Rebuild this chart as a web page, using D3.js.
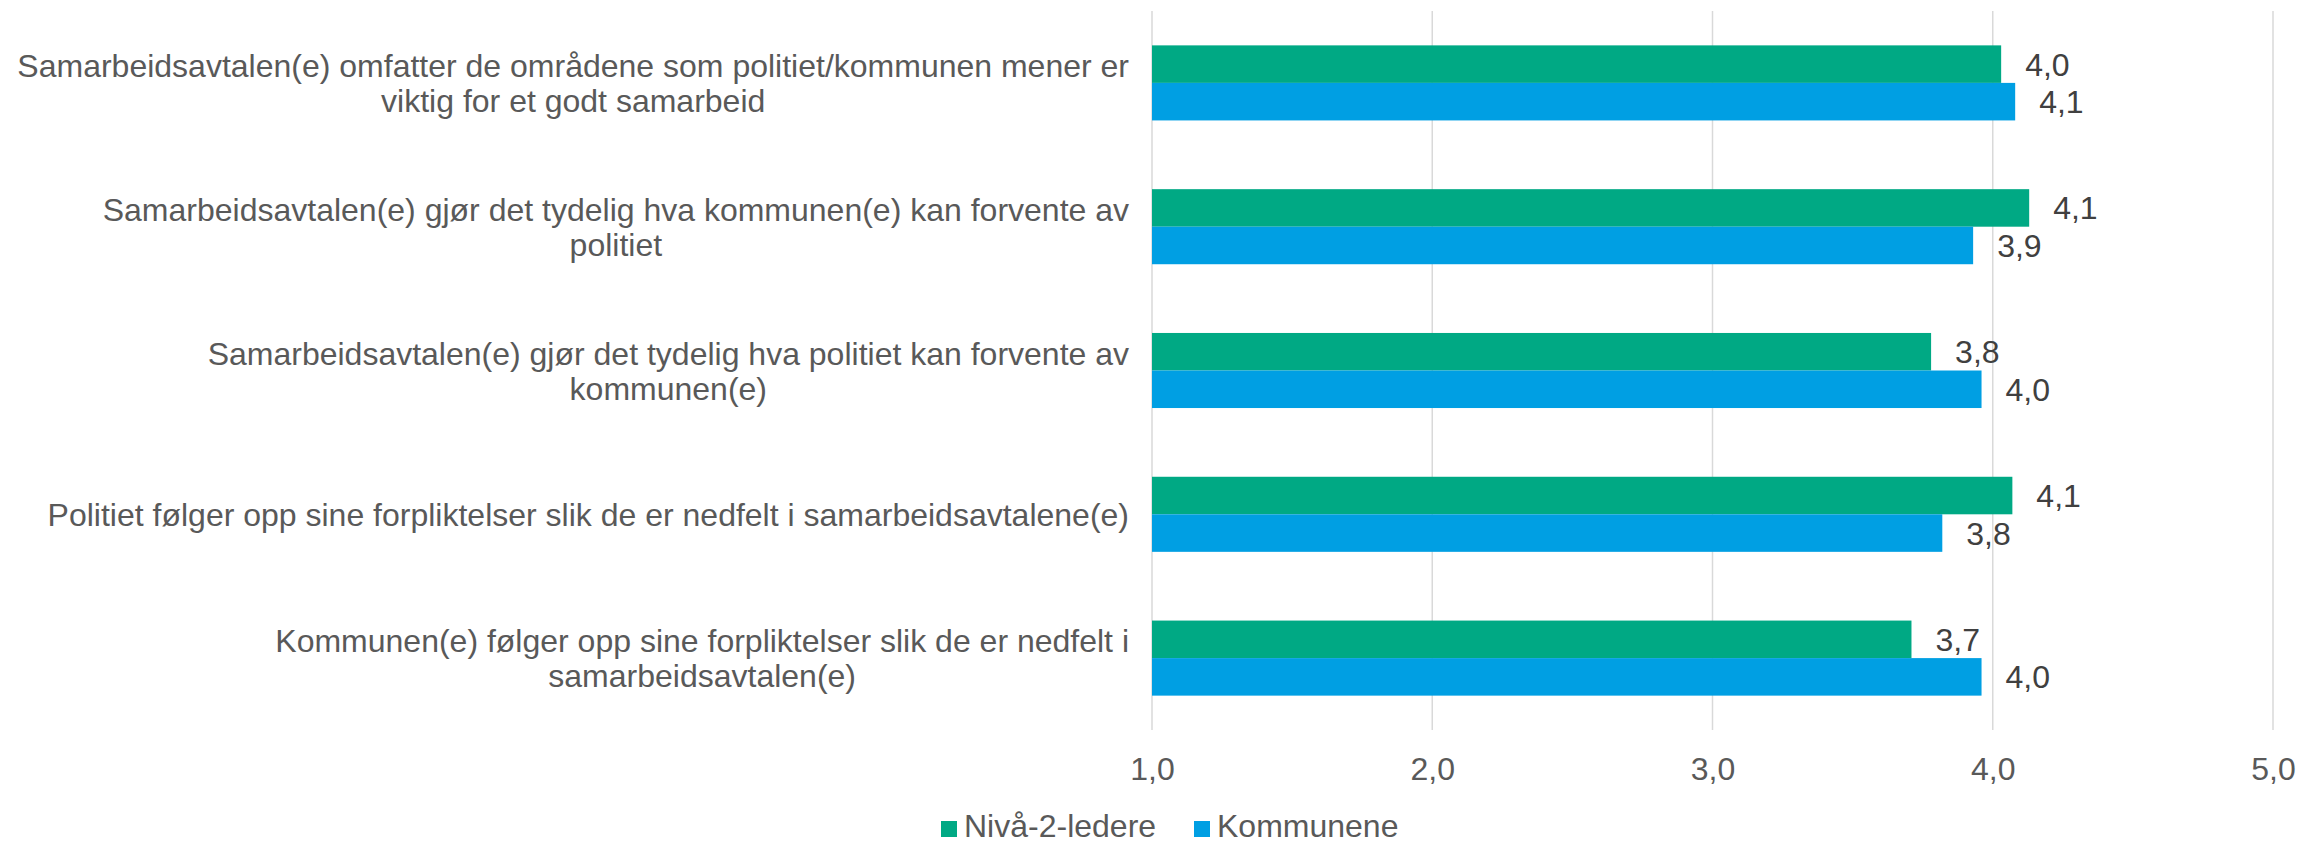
<!DOCTYPE html>
<meta charset="utf-8">
<head>
<style>
  body { margin: 0; background: #fff; }
  text { font-family: "Liberation Sans", Arial, sans-serif; }
</style>
</head>
<script src="https://d3js.org/d3.v7.min.js"></script>
<div id="chart"></div>
<script>
// categories (each one split in the lines shown on the axis)
var categories = [
  ["Samarbeidsavtalen(e) omfatter de områdene som politiet/kommunen mener er", "viktig for et godt samarbeid"],
  ["Samarbeidsavtalen(e) gjør det tydelig hva kommunen(e) kan forvente av", "politiet"],
  ["Samarbeidsavtalen(e) gjør det tydelig hva politiet kan forvente av", "kommunen(e)"],
  ["Politiet følger opp sine forpliktelser slik de er nedfelt i samarbeidsavtalene(e)"],
  ["Kommunen(e) følger opp sine forpliktelser slik de er nedfelt i", "samarbeidsavtalen(e)"]
];
var seriesNames = ["Nivå-2-ledere", "Kommunene"];
var nivaa2 = [4.03, 4.13, 3.78, 4.07, 3.71];
var kommunene = [4.08, 3.93, 3.96, 3.82, 3.96];
var xTicks = [1, 2, 3, 4, 5];

var colors = {"Nivå-2-ledere": "#00a984", "Kommunene": "#009fe3"};

var W = 2305, H = 842;
var margin = {top: 11, right: 32, bottom: 112, left: 1152};
var width = W - margin.left - margin.right,
    height = H - margin.top - margin.bottom;
var fs = 32;

var svg = d3.select("#chart").append("svg")
    .attr("width", W)
    .attr("height", H);

var g = svg.append("g")
    .attr("transform", "translate(" + margin.left + "," + margin.top + ")");

var fmt = function(v) { return d3.format(".1f")(v).replace(".", ","); };

var x = d3.scaleLinear().domain([1, 5]).range([0, width]);
var y = d3.scaleBand()
    .domain(d3.range(categories.length))
    .range([0, height])
    .paddingInner(0.478)
    .paddingOuter(0.239);
var ySub = d3.scaleBand().domain(seriesNames).range([0, y.bandwidth()]);

// gridlines
g.selectAll(".grid")
  .data(xTicks)
  .enter().append("line")
    .attr("x1", function(d) { return x(d); })
    .attr("x2", function(d) { return x(d); })
    .attr("y1", 0)
    .attr("y2", height)
    .attr("stroke", "#d9d9d9")
    .attr("stroke-width", 1.5);

// x axis labels
var xAxis = g.append("g")
    .attr("transform", "translate(0," + height + ")")
    .call(d3.axisBottom(x).tickValues(xTicks).tickFormat(fmt).tickSize(0).tickPadding(27));
xAxis.select(".domain").remove();
xAxis.selectAll("text")
    .attr("font-family", "Liberation Sans, Arial, sans-serif")
    .attr("font-size", fs)
    .attr("fill", "#595959");

// bars
var rows = categories.map(function(c, i) {
  return [
    {cat: i, name: seriesNames[0], value: nivaa2[i]},
    {cat: i, name: seriesNames[1], value: kommunene[i]}
  ];
});

var groups = g.selectAll(".group")
  .data(rows)
  .enter().append("g")
    .attr("transform", function(d, i) { return "translate(0," + y(i) + ")"; });

groups.selectAll("rect")
  .data(function(d) { return d; })
  .enter().append("rect")
    .attr("x", x(1))
    .attr("y", function(d) { return ySub(d.name); })
    .attr("width", function(d) { return x(d.value) - x(1); })
    .attr("height", ySub.bandwidth())
    .attr("fill", function(d) { return colors[d.name]; });

// data labels
groups.selectAll(".lbl")
  .data(function(d) { return d; })
  .enter().append("text")
    .attr("x", function(d) { return x(d.value) + 24; })
    .attr("y", function(d) { return ySub(d.name) + ySub.bandwidth() / 2; })
    .attr("dy", "0.36em")
    .attr("font-size", fs)
    .attr("fill", "#404040")
    .text(function(d) { return fmt(d.value); });

// category labels, lines centred in a block that is right aligned to the axis
var lineH = 35;
var labelRight = -23;
categories.forEach(function(lines, i) {
  var t = g.append("text")
      .attr("font-size", fs)
      .attr("fill", "#595959")
      .attr("text-anchor", "middle");
  var spans = lines.map(function(line, j) {
    return t.append("tspan")
      .attr("y", y(i) + y.bandwidth() / 2 + (j - (lines.length - 1) / 2) * lineH)
      .attr("dy", "0.36em")
      .text(line);
  });
  var maxW = d3.max(spans, function(s) { return s.node().getComputedTextLength(); });
  spans.forEach(function(s) { s.attr("x", labelRight - maxW / 2); });
});

// legend
var legendX = [941, 1194];
var legend = svg.append("g");
seriesNames.forEach(function(name, i) {
  legend.append("rect")
    .attr("x", legendX[i])
    .attr("y", 821)
    .attr("width", 16)
    .attr("height", 16)
    .attr("fill", colors[name]);
  legend.append("text")
    .attr("x", legendX[i] + 23)
    .attr("y", 837)
    .attr("font-size", fs)
    .attr("fill", "#595959")
    .text(name);
});
</script>
